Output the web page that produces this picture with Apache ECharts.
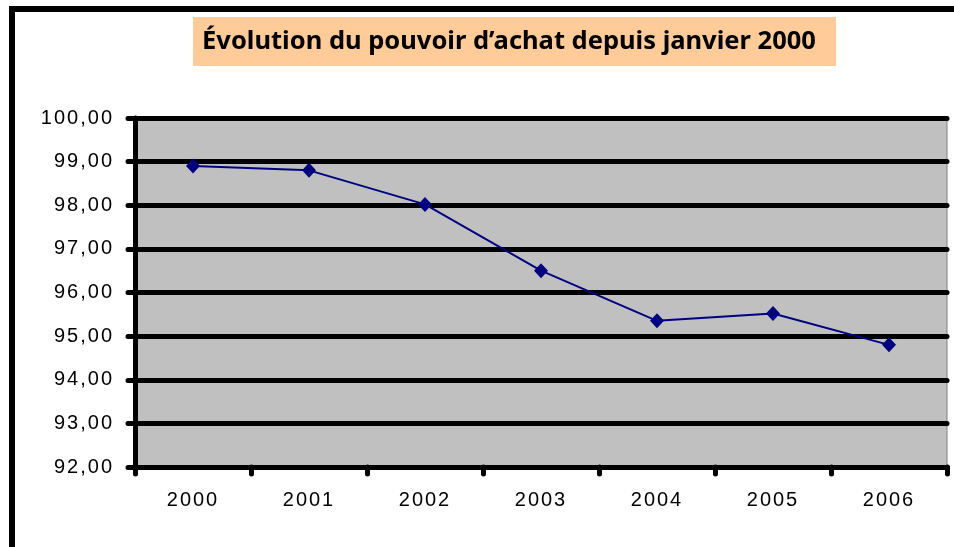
<!DOCTYPE html>
<html><head><meta charset="utf-8">
<script src="https://cdn.jsdelivr.net/npm/echarts@6/dist/echarts.min.js"></script>
<style>html,body{margin:0;padding:0;background:#fff}#c{width:954px;height:547px}</style>
</head><body><div id="c"></div>
<script>
// letter spacing for axis label font (canvas only)
(function(){
  var d = Object.getOwnPropertyDescriptor(CanvasRenderingContext2D.prototype, 'font');
  if (d && d.set && ('letterSpacing' in CanvasRenderingContext2D.prototype)) {
    Object.defineProperty(CanvasRenderingContext2D.prototype, 'font', {
      configurable: true,
      get: function(){ return d.get.call(this); },
      set: function(v){ d.set.call(this, v); this.letterSpacing = /Liberation Sans/.test(v) ? '2px' : '0px'; }
    });
  }
})();

var titleText = 'Évolution du pouvoir d’achat depuis janvier 2000';
var categories = ['2000', '2001', '2002', '2003', '2004', '2005', '2006'];
var values = [98.9, 98.8, 98.02, 96.5, 95.35, 95.52, 94.8];
var yMin = 92, yMax = 100, yStep = 1;

var chart = echarts.init(document.getElementById('c'), null, {renderer: 'canvas'});
chart.setOption({
  animation: false,
  backgroundColor: '#ffffff',
  grid: {
    left: 135, top: 118, right: 7, bottom: 80,
    show: true, backgroundColor: '#C0C0C0', borderColor: '#808080', borderWidth: 1
  },
  graphic: [
    {type: 'rect', shape: {x: 12, y: 9, width: 1200, height: 800},
     style: {fill: 'none', stroke: '#000', lineWidth: 6}, z: 100},
    {type: 'rect', shape: {x: 193, y: 17, width: 643, height: 49},
     style: {fill: '#FFCC99'}, z: 101},
    {type: 'text', x: 509, y: 42, z: 102,
     style: {text: titleText, align: 'center', verticalAlign: 'middle',
             font: 'bold 25.5px "Noto Sans"', fill: '#000'}}
  ],
  xAxis: {
    type: 'category', data: categories, boundaryGap: true,
    axisLine: {lineStyle: {color: '#000', width: 5, cap: 'round'}},
    axisTick: {show: true, length: 7, lineStyle: {color: '#000', width: 5, cap: 'round'}},
    axisLabel: {margin: 22, color: '#000', fontSize: 20, fontFamily: 'Liberation Sans'},
    splitLine: {show: false}
  },
  yAxis: {
    type: 'value', min: yMin, max: yMax, interval: yStep,
    axisLine: {show: true, lineStyle: {color: '#000', width: 5, cap: 'round'}},
    axisTick: {show: true, length: 7, lineStyle: {color: '#000', width: 5, cap: 'round'}},
    axisLabel: {margin: 21, color: '#000', fontSize: 20, fontFamily: 'Liberation Sans',
      formatter: function(v){ return v.toFixed(2).replace('.', ','); }},
    splitLine: {show: true, lineStyle: {color: '#000', width: 5, cap: 'round'}}
  },
  series: [{
    type: 'line', data: values,
    lineStyle: {color: '#000080', width: 2},
    itemStyle: {color: '#000080'},
    symbol: 'diamond', symbolSize: [14, 15], showSymbol: true
  }]
});
</script></body></html>
